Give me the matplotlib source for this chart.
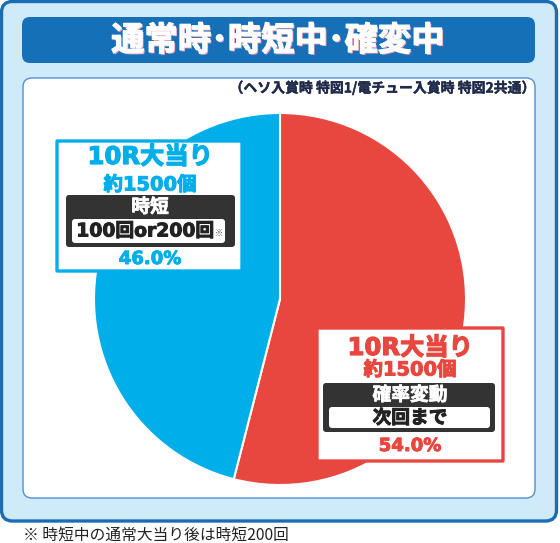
import matplotlib
matplotlib.use("Agg")
import matplotlib.pyplot as plt
from matplotlib.patches import FancyBboxPatch
import matplotlib.patheffects as pe

# data
categories = ["10R大当り(確率変動)", "10R大当り(時短)"]
shares = [54.0, 46.0]
colors = ["#e8473f", "#00aeea"]
round_labels = ["10R大当り", "10R大当り"]
payout_labels = ["約1500個", "約1500個"]
mode_labels = ["確率変動", "時短"]
length_labels = ["次回まで", "100回or200回"]

title = "通常時･時短中･確変中"
subtitle = "（ヘソ入賞時 特図1/電チュー入賞時 特図2共通）"
footnote = "※ 時短中の通常大当り後は時短200回"

JP = ["Noto Sans CJK JP", "DejaVu Sans"]
NUM = ["DejaVu Sans", "Noto Sans CJK JP"]

fig = plt.figure(figsize=(5.6, 5.43), dpi=100)
ax = fig.add_axes([0, 0, 1, 1])


def rbox(x0, y0, x1, y1, r, fc, ec="none", lw=0, z=1):
    p = FancyBboxPatch((x0, y0), x1 - x0, y1 - y0,
                       boxstyle=f"round,pad=0,rounding_size={r}",
                       fc=fc, ec=ec, lw=lw, zorder=z)
    ax.add_patch(p)


def heavy(col, w=0.7):
    # thicken glyphs a little, the source uses a heavier gothic face
    return [pe.withStroke(linewidth=w, foreground=col)]


# panels
rbox(1.5, 1.5, 556.5, 521, 11, "#cfeaf8", "#1a6db5", 2.4, 0)
rbox(22, 17, 535, 63, 8, "#1570b8", z=1)
rbox(23, 78, 535, 498, 9, "white", "#4f8fd4", 1.0, 1)

ax.text(278, 41, title, ha="center", va="center", fontsize=24,
        fontweight="bold", color="white", family=JP, zorder=3,
        path_effects=[pe.withSimplePatchShadow(offset=(1, -1),
                                               shadow_rgbFace="#f0a0b8",
                                               alpha=1.0),
                      pe.withStroke(linewidth=0.8, foreground="white")])
ax.text(535, 88, subtitle, ha="right", va="center", fontsize=10,
        fontweight="bold", color="#1f2a4a", family=JP, zorder=3,
        path_effects=heavy("#1f2a4a", 0.3))

# pie
ax.pie(shares, colors=colors, center=(280, 299), radius=186,
       startangle=-90, counterclock=True,
       wedgeprops=dict(edgecolor="white", linewidth=1.5, zorder=2))

ax.set_xlim(0, 560)
ax.set_ylim(543, 0)
ax.set_aspect("auto")
ax.axis("off")

# label boxes: (box, dark box, white box, text centres)
layout = [
    dict(box=(317, 328, 503, 461), dark=(323, 383, 495, 432),
         white=(329, 407, 490, 428), cx=410,
         ys=(348, 370, 395, 418, 446)),
    dict(box=(57, 141, 242, 271), dark=(66, 195, 235, 247),
         white=(72, 219, 225, 243), cx=150,
         ys=(157, 185, 207, 231, 259)),
]

for i, lay in enumerate(layout):
    c = colors[i]
    x0, y0, x1, y1 = lay["box"]
    rbox(x0, y0, x1, y1, 0.5, "white", c, 2.4, 4)
    x0, y0, x1, y1 = lay["dark"]
    rbox(x0, y0, x1, y1, 3, "#333333", z=5)
    x0, y0, x1, y1 = lay["white"]
    rbox(x0, y0, x1, y1, 3, "white", z=6)
    cx = lay["cx"]
    ys = lay["ys"]
    ax.text(cx, ys[0], round_labels[i], ha="center", va="center",
            fontsize=17.5, fontweight="bold", color=c, family=NUM, zorder=7,
            path_effects=heavy(c, 0.9))
    ax.text(cx, ys[1], payout_labels[i], ha="center", va="center",
            fontsize=14, fontweight="bold", color=c, family=NUM, zorder=7,
            path_effects=heavy(c))
    ax.text(cx, ys[2], mode_labels[i], ha="center", va="center",
            fontsize=13.5, fontweight="bold", color="white", family=JP,
            zorder=7, path_effects=heavy("white", 0.5))
    lx = cx if i == 0 else cx - 5
    ax.text(lx, ys[3], length_labels[i], ha="center", va="center",
            fontsize=13.5, fontweight="bold", color="#222222", family=NUM,
            zorder=7, path_effects=heavy("#222222"))
    ax.text(cx, ys[4], f"{shares[i]:.1f}%", ha="center", va="center",
            fontsize=13, fontweight="bold", color=c, family=NUM, zorder=7,
            path_effects=heavy(c))

# small reference mark after the 時短 count
ax.text(219, 233, "※", ha="center", va="center", fontsize=6,
        color="#555555", family=JP, zorder=7)

ax.text(23, 535, footnote, ha="left", va="center", fontsize=11.3,
        color="#222222", family=JP, zorder=3)

fig.savefig("out.png", dpi=100)
